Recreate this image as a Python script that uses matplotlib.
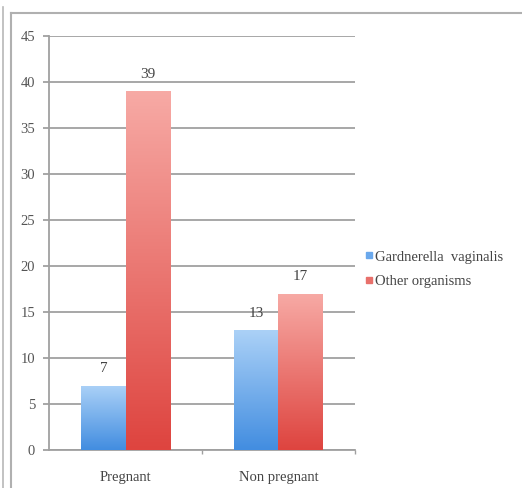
import numpy as np
import matplotlib.pyplot as plt
from matplotlib.colors import LinearSegmentedColormap
from matplotlib.lines import Line2D

categories = ['Pregnant', 'Non pregnant']
series = ['Gardnerella  vaginalis', 'Other organisms']
gardnerella = [7, 13]
other = [39, 17]
yticks = [0, 5, 10, 15, 20, 25, 30, 35, 40, 45]

plt.rcParams['font.family'] = ['Liberation Serif', 'DejaVu Serif']

fig = plt.figure(figsize=(5.22, 4.88), dpi=100)
ax = fig.add_axes([0.094, 0.078, 0.586, 0.848])

# gradient colours, light at top, darker at bottom
blue_cmap = LinearSegmentedColormap.from_list('b', ['#428de0', '#abd1f7'])
red_cmap = LinearSegmentedColormap.from_list('r', ['#de443f', '#f7aaa5'])

x = np.arange(len(categories))
w = 0.29
grad = np.linspace(0, 1, 256).reshape(-1, 1)

for vals, off, cmap in [(gardnerella, -w / 2, blue_cmap), (other, w / 2, red_cmap)]:
    bars = ax.bar(x + off, vals, w, color='none', edgecolor='none', zorder=3)
    for b, v in zip(bars, vals):
        x0 = b.get_x()
        im = ax.imshow(grad, cmap=cmap, origin='lower', aspect='auto',
                       extent=[x0, x0 + w, 0, v], zorder=3)
        im.set_clip_path(b)
        ax.text(x0 + w / 2, v + 1.1, str(v), ha='center', va='bottom',
                fontsize=11, color='#444444')

ax.set_xlim(-0.5, 1.5)
ax.set_ylim(0, 45)
ax.set_yticks(yticks)
ax.yaxis.grid(True, color='#a0a0a0', linewidth=1.3)
ax.set_axisbelow(True)
ax.tick_params(axis='y', colors='#a0a0a0', labelcolor='#555555', labelsize=10.5,
               length=4, width=1.3, pad=6)

ax.set_xticks([0.5, 1.5])
ax.set_xticklabels([])
ax.set_xticks(x, minor=True)
ax.set_xticklabels(categories, minor=True)
ax.tick_params(axis='x', which='major', colors='#a0a0a0', length=3, width=1)
ax.tick_params(axis='x', which='minor', length=0, labelsize=10.5,
               labelcolor='#444444', pad=15)

for s in ['top', 'right']:
    ax.spines[s].set_visible(False)
ax.spines['left'].set_color('#a0a0a0')
ax.spines['left'].set_linewidth(1.3)
ax.spines['bottom'].set_color('#a0a0a0')
ax.spines['bottom'].set_linewidth(1.3)

handles = [Line2D([], [], marker='s', linestyle='none', markersize=4,
                  color='#6aa8ec'),
           Line2D([], [], marker='s', linestyle='none', markersize=4,
                  color='#e8706b')]
fig.legend(handles, series, loc='upper left', bbox_to_anchor=(0.672, 0.514),
           frameon=False, fontsize=10.5, handletextpad=0.05, handlelength=0.7,
           labelspacing=0.75, labelcolor='#444444')

# outer frame lines
fig.add_artist(Line2D([0.021, 1.0], [0.973, 0.973], color='#b0b0b0', lw=1.5))
fig.add_artist(Line2D([0.021, 0.021], [0.0, 0.973], color='#b0b0b0', lw=1.5))
fig.add_artist(Line2D([0.006, 0.006], [0.0, 0.985], color='#b8b8b8', lw=1.2))

fig.savefig('out.png', dpi=100)
